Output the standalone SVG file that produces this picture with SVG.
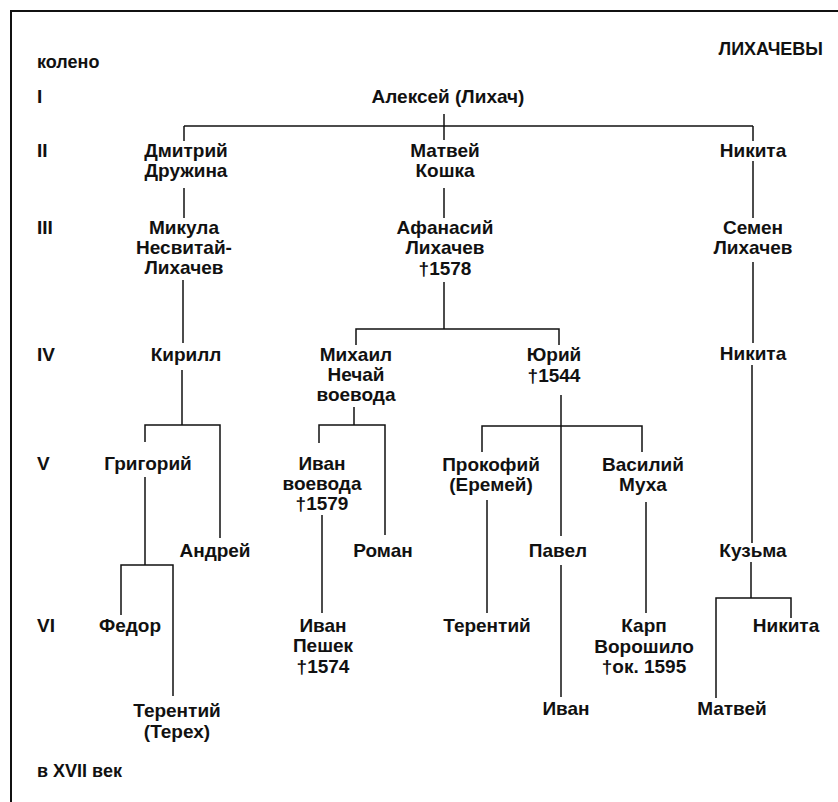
<svg xmlns="http://www.w3.org/2000/svg" width="838" height="802" viewBox="0 0 838 802">
<style>
text{font-family:"Liberation Sans",Arial,sans-serif;font-size:19px;font-weight:bold;fill:#111}
.n text{text-anchor:middle}
#connectors line,#connectors polyline{stroke:#111;stroke-width:1.5;fill:none}
.frame{stroke:#111;stroke-width:2;fill:none}
</style>
<rect width="838" height="802" fill="#fff"/>
<polyline class="frame" points="11,802 11,11 838,11"/>
<g id="labels">
<text x="37" y="68" style="font-size:18px">колено</text>
<text x="823" y="55" text-anchor="end" style="font-size:18px">ЛИХАЧЕВЫ</text>
<text x="37" y="103">I</text>
<text x="37" y="157">II</text>
<text x="37" y="234">III</text>
<text x="37" y="361">IV</text>
<text x="37" y="470">V</text>
<text x="37" y="632">VI</text>
<text x="37" y="777" style="font-size:18px">в XVII век</text>
</g>
<g id="connectors">
<line x1="184" y1="126" x2="753" y2="126"/>
<line x1="444" y1="114" x2="444" y2="140"/>
<line x1="184" y1="126" x2="184" y2="141"/>
<line x1="753" y1="126" x2="753" y2="141"/>
<line x1="184" y1="188" x2="184" y2="218"/>
<line x1="444" y1="188" x2="444" y2="218"/>
<line x1="753" y1="161" x2="753" y2="218"/>
<line x1="183" y1="280" x2="183" y2="343"/>
<line x1="753" y1="262" x2="753" y2="343"/>
<line x1="444" y1="282" x2="444" y2="329"/>
<polyline points="356,345 356,329 559,329 559,345"/>
<line x1="182" y1="370" x2="182" y2="425"/>
<polyline points="145,442 145,425 220,425 220,538"/>
<line x1="145" y1="477" x2="145" y2="565"/>
<polyline points="121,615 121,565 173,565 173,696"/>
<line x1="354" y1="407" x2="354" y2="425"/>
<polyline points="319,443 319,425 385,425 385,535"/>
<line x1="322" y1="515" x2="322" y2="613"/>
<line x1="561" y1="395" x2="561" y2="536"/>
<polyline points="482,452 482,426 642,426 642,452"/>
<line x1="487" y1="500" x2="487" y2="613"/>
<line x1="646" y1="502" x2="646" y2="613"/>
<line x1="561" y1="565" x2="561" y2="697"/>
<line x1="752" y1="365" x2="752" y2="543"/>
<line x1="751" y1="562" x2="751" y2="598"/>
<polyline points="716,698 716,598 791,598 791,618"/>
</g>
<g class="n" id="n-aleksey"><text x="448" y="103">Алексей (Лихач)</text></g>
<g class="n" id="n-dmitriy"><text x="186" y="157">Дмитрий</text><text x="186" y="177">Дружина</text></g>
<g class="n" id="n-matvey"><text x="445" y="157">Матвей</text><text x="445" y="177">Кошка</text></g>
<g class="n" id="n-nikita2"><text x="753" y="157">Никита</text></g>
<g class="n" id="n-mikula"><text x="184" y="234">Микула</text><text x="184" y="254">Несвитай-</text><text x="184" y="274">Лихачев</text></g>
<g class="n" id="n-afanasiy"><text x="445" y="234">Афанасий</text><text x="445" y="254">Лихачев</text><text x="445" y="275">†1578</text></g>
<g class="n" id="n-semen"><text x="753" y="234">Семен</text><text x="753" y="254">Лихачев</text></g>
<g class="n" id="n-kirill"><text x="186" y="361">Кирилл</text></g>
<g class="n" id="n-mikhail"><text x="356" y="361">Михаил</text><text x="356" y="381">Нечай</text><text x="356" y="401">воевода</text></g>
<g class="n" id="n-yuriy"><text x="554" y="361">Юрий</text><text x="554" y="382">†1544</text></g>
<g class="n" id="n-nikita4"><text x="753" y="360">Никита</text></g>
<g class="n" id="n-grigoriy"><text x="148" y="470">Григорий</text></g>
<g class="n" id="n-ivan-voevoda"><text x="322" y="470">Иван</text><text x="322" y="490">воевода</text><text x="322" y="510">†1579</text></g>
<g class="n" id="n-prokofiy"><text x="491" y="471">Прокофий</text><text x="491" y="491">(Еремей)</text></g>
<g class="n" id="n-vasiliy"><text x="643" y="471">Василий</text><text x="643" y="491">Муха</text></g>
<g class="n" id="n-andrey"><text x="215" y="557">Андрей</text></g>
<g class="n" id="n-roman"><text x="383" y="557">Роман</text></g>
<g class="n" id="n-pavel"><text x="558" y="557">Павел</text></g>
<g class="n" id="n-kuzma"><text x="753" y="557">Кузьма</text></g>
<g class="n" id="n-fedor"><text x="130" y="632">Федор</text></g>
<g class="n" id="n-ivan-peshek"><text x="323" y="632">Иван</text><text x="323" y="652">Пешек</text><text x="323" y="673">†1574</text></g>
<g class="n" id="n-terentiy"><text x="487" y="632">Терентий</text></g>
<g class="n" id="n-karp"><text x="644" y="632">Карп</text><text x="644" y="653">Ворошило</text><text x="644" y="673">†ок. 1595</text></g>
<g class="n" id="n-nikita6"><text x="786" y="632">Никита</text></g>
<g class="n" id="n-terentiy-terekh"><text x="177" y="717">Терентий</text><text x="177" y="738">(Терех)</text></g>
<g class="n" id="n-ivan"><text x="566" y="715">Иван</text></g>
<g class="n" id="n-matvey6"><text x="732" y="715">Матвей</text></g>
</svg>
